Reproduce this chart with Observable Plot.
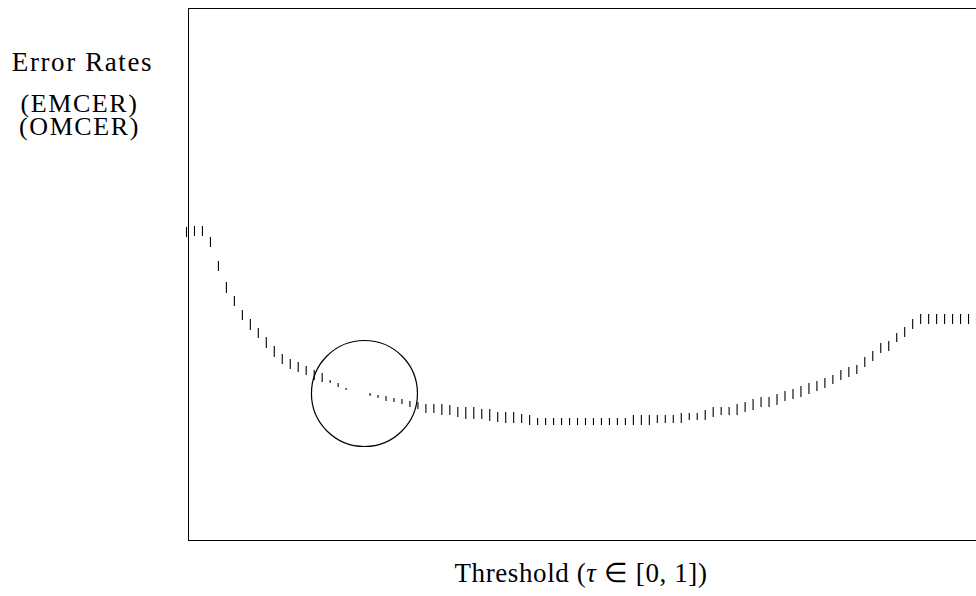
<!DOCTYPE html>
<html>
<head>
<meta charset="utf-8">
<script src="https://cdn.jsdelivr.net/npm/d3@7"></script>
<script src="https://cdn.jsdelivr.net/npm/@observablehq/plot@0.6"></script>
<style>
  html, body { margin: 0; padding: 0; background: #fff; overflow: hidden; }
  #wrap { position: relative; width: 976px; height: 596px; overflow: hidden; }
  #chart svg { max-width: none !important; display: block; }
  #chart svg text { letter-spacing: 1.6px; }
  #xlabel {
    position: absolute; left: 450px; width: 262px; top: 556px;
    text-align: center; font-family: "Liberation Serif", serif; font-size: 27px;
    color: #000; white-space: nowrap; line-height: 34px; letter-spacing: 0.6px;
  }
</style>
</head>
<body>
<div id="wrap">
  <div id="chart"></div>
  <div id="xlabel">Threshold (<i>τ</i> ∈ [0, 1])</div>
</div>
<script>
// Threshold values τ
const thresholds = [
  0.00,0.01,0.02,0.03,0.04,0.05,0.06,0.07,0.08,0.09,
  0.10,0.11,0.12,0.13,0.14,0.15,0.16,0.17,0.18,0.19,
  0.20,0.21,0.22,0.23,0.24,0.25,0.26,0.27,0.28,0.29,
  0.30,0.31,0.32,0.33,0.34,0.35,0.36,0.37,0.38,0.39,
  0.40,0.41,0.42,0.43,0.44,0.45,0.46,0.47,0.48,0.49,
  0.50,0.51,0.52,0.53,0.54,0.55,0.56,0.57,0.58,0.59,
  0.60,0.61,0.62,0.63,0.64,0.65,0.66,0.67,0.68,0.69,
  0.70,0.71,0.72,0.73,0.74,0.75,0.76,0.77,0.78,0.79,
  0.80,0.81,0.82,0.83,0.84,0.85,0.86,0.87,0.88,0.89,
  0.90,0.91,0.92,0.93,0.94,0.95,0.96,0.97,0.98,0.99,
  1.00
];

// EMCER error rate at each threshold
const emcer = [
  0.313,0.314,0.314,0.303,0.279,0.258,0.244,0.230,0.221,0.212,
  0.203,0.194,0.186,0.181,0.178,0.174,0.170,0.167,0.160,0.157,
  0.152,0.149,0.148,0.144,0.142,0.139,0.138,0.136,0.133,0.131,
  0.127,0.127,0.125,0.125,0.123,0.121,0.121,0.121,0.119,0.118,
  0.117,0.117,0.117,0.115,0.115,0.115,0.115,0.115,0.115,0.115,
  0.115,0.115,0.115,0.115,0.115,0.115,0.115,0.115,0.115,0.117,
  0.117,0.117,0.117,0.120,0.120,0.120,0.123,0.125,0.125,0.125,
  0.128,0.130,0.133,0.133,0.135,0.139,0.141,0.143,0.146,0.149,
  0.152,0.156,0.160,0.163,0.166,0.173,0.179,0.187,0.189,0.198,
  0.203,0.211,0.216,0.216,0.216,0.216,0.216,0.216,0.216,0.216,
  0.216
];

// OMCER error rate at each threshold
const omcer = [
  0.303,0.304,0.304,0.293,0.269,0.247,0.234,0.220,0.210,0.202,
  0.192,0.183,0.176,0.171,0.168,0.165,0.160,0.158,0.157,0.153,
  0.150,0.149,0.148,0.147,0.145,0.144,0.142,0.141,0.139,0.138,
  0.136,0.136,0.136,0.135,0.133,0.133,0.133,0.131,0.131,0.128,
  0.128,0.128,0.126,0.125,0.122,0.122,0.122,0.122,0.122,0.122,
  0.122,0.122,0.122,0.122,0.122,0.122,0.125,0.125,0.125,0.125,
  0.125,0.125,0.127,0.127,0.127,0.130,0.133,0.133,0.133,0.136,
  0.138,0.141,0.143,0.143,0.146,0.149,0.151,0.154,0.157,0.159,
  0.162,0.165,0.170,0.173,0.175,0.183,0.189,0.197,0.199,0.207,
  0.213,0.221,0.226,0.226,0.226,0.226,0.226,0.226,0.226,0.226,
  0.226
];

// Highlighted crossing point (circled)
const crossingTau = [0.223];
const crossingRate = [0.147];

// Axis / label texts
const yLabelLines = ["Error Rates", "(EMCER)", "(OMCER)"];

const rows = thresholds.map((t, i) => ({t, e: emcer[i], o: omcer[i]}));
const crossing = crossingTau.map((t, i) => ({t, v: crossingRate[i]}));

const chart = Plot.plot({
  width: 1000,
  height: 548,
  marginTop: 8,
  marginBottom: 8,
  marginLeft: 188,
  marginRight: 10,
  style: {fontFamily: "'Liberation Serif', serif", background: "white", color: "black", maxWidth: "none"},
  x: {domain: [0, 1], range: [186, 984], axis: null},
  y: {domain: [0, 0.532], range: [540, 8], axis: null},
  marks: [
    Plot.frame({stroke: "black", strokeWidth: 1}),
    Plot.ruleX(rows, {x: "t", y1: "e", y2: "o", stroke: "black", strokeWidth: 1.1}),
    Plot.dot(crossing, {x: "t", y: "v", r: 53, stroke: "black", fill: "none", strokeWidth: 1.2}),
    Plot.text([yLabelLines[0]], {frameAnchor: "top-left", text: d => d, dx: -106, dy: 54, textAnchor: "middle", lineAnchor: "middle", fontSize: 27, fill: "black"}),
    Plot.text([yLabelLines[1]], {frameAnchor: "top-left", text: d => d, dx: -109, dy: 95, textAnchor: "middle", lineAnchor: "middle", fontSize: 26, fill: "black"}),
    Plot.text([yLabelLines[2]], {frameAnchor: "top-left", text: d => d, dx: -109, dy: 118, textAnchor: "middle", lineAnchor: "middle", fontSize: 26, fill: "black"})
  ]
});
document.getElementById("chart").appendChild(chart);
</script>
</body>
</html>
